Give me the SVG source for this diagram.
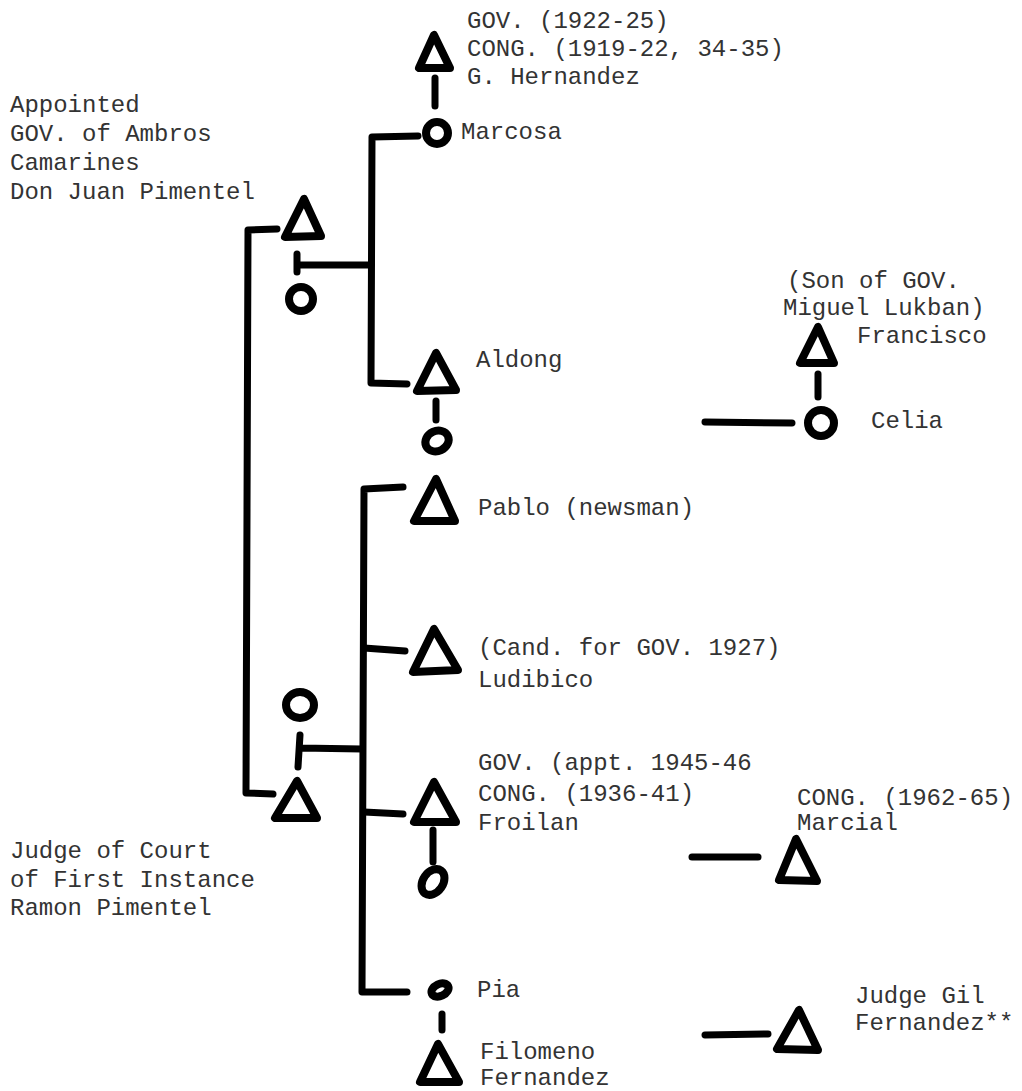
<svg xmlns="http://www.w3.org/2000/svg" width="1022" height="1091" viewBox="0 0 1022 1091">
<style>
.s{fill:#fff;stroke:#000;stroke-width:8;stroke-linejoin:round;stroke-linecap:round}
.l{fill:none;stroke:#000;stroke-width:7;stroke-linejoin:round;stroke-linecap:round}
text{font-family:"Courier New","Nimbus Mono PS","FreeMono","Liberation Mono",monospace;font-size:24px;fill:#333}
</style>
<rect width="1022" height="1091" fill="#fff"/>
<g id="connectors">
<path class="l" d="M435,78 L435,106"/>
<path class="l" d="M418,136 L372,137 L371,383 L407,384"/>
<path class="l" d="M277,229 L248,230 L246,793 L273,794"/>
<path class="l" d="M297,254 L297,272 M297,265 L371,265"/>
<path class="l" d="M436,401 L436,420"/>
<path class="l" d="M705,422 L792,423"/>
<path class="l" d="M818,374 L818,397"/>
<path class="l" d="M403,487 L364,489 L362,992 L407,992"/>
<path class="l" d="M364,648 L405,651"/>
<path class="l" d="M300,735 L298,767 M300,748 L362,749"/>
<path class="l" d="M364,812 L403,814"/>
<path class="l" d="M433,830 L433,862"/>
<path class="l" d="M692,857 L758,857"/>
<path class="l" d="M442,1014 L442,1030"/>
<path class="l" d="M705,1035 L768,1034"/>
</g>
<g id="hernandez">
<polygon class="s" points="434,35 419,68 450,68"/>
<text x="467" y="28">GOV. (1922-25)</text>
<text x="467" y="56">CONG. (1919-22, 34-35)</text>
<text x="467" y="84">G. Hernandez</text>
</g>
<g id="marcosa">
<circle class="s" cx="437" cy="133" r="11"/>
<text x="461" y="139">Marcosa</text>
</g>
<g id="don-juan">
<polygon class="s" points="304,199 285,237 321,236"/>
<text x="10" y="112">Appointed</text>
<text x="10" y="141">GOV. of Ambros</text>
<text x="10" y="170">Camarines</text>
<text x="10" y="199">Don Juan Pimentel</text>
</g>
<g id="don-juan-wife">
<ellipse class="s" cx="301" cy="299" rx="12" ry="12"/>
</g>
<g id="aldong">
<polygon class="s" points="436,353 417,391 456,390"/>
<text x="476" y="367">Aldong</text>
</g>
<g id="aldong-wife">
<ellipse class="s" cx="437" cy="441" rx="12" ry="10" transform="rotate(-25 437 441)"/>
</g>
<g id="francisco">
<polygon class="s" points="818,327 800,363 834,363"/>
<text x="787" y="288">(Son of GOV.</text>
<text x="783" y="315">Miguel Lukban)</text>
<text x="857" y="343">Francisco</text>
</g>
<g id="celia">
<circle class="s" cx="821" cy="423" r="13"/>
<text x="871" y="428">Celia</text>
</g>
<g id="pablo">
<polygon class="s" points="436,479 414,521 455,521"/>
<text x="478" y="515">Pablo (newsman)</text>
</g>
<g id="ludibico">
<polygon class="s" points="434,629 413,672 458,670"/>
<text x="478" y="655">(Cand. for GOV. 1927)</text>
<text x="478" y="687">Ludibico</text>
</g>
<g id="ramon-wife">
<ellipse class="s" cx="300" cy="705" rx="14" ry="13"/>
</g>
<g id="ramon">
<polygon class="s" points="297,781 275,818 317,818"/>
<text x="10" y="858">Judge of Court</text>
<text x="10" y="887">of First Instance</text>
<text x="10" y="915">Ramon Pimentel</text>
</g>
<g id="froilan">
<polygon class="s" points="434,782 414,822 456,822"/>
<text x="478" y="770">GOV. (appt. 1945-46</text>
<text x="478" y="801">CONG. (1936-41)</text>
<text x="478" y="830">Froilan</text>
</g>
<g id="froilan-wife">
<ellipse class="s" cx="433" cy="882" rx="10" ry="14" transform="rotate(35 433 882)"/>
</g>
<g id="marcial">
<polygon class="s" points="796,839 779,880 817,881"/>
<text x="797" y="805">CONG. (1962-65)</text>
<text x="797" y="830">Marcial</text>
</g>
<g id="pia">
<ellipse class="s" cx="440" cy="990" rx="9" ry="6" stroke-width="11" transform="rotate(-25 440 990)"/>
<text x="477" y="997">Pia</text>
</g>
<g id="filomeno">
<polygon class="s" points="438,1044 420,1082 459,1082"/>
<text x="480" y="1059">Filomeno</text>
<text x="480" y="1085">Fernandez</text>
</g>
<g id="gil">
<polygon class="s" points="799,1010 777,1049 818,1050"/>
<text x="855" y="1003">Judge Gil</text>
<text x="855" y="1030">Fernandez**</text>
</g>
</svg>
